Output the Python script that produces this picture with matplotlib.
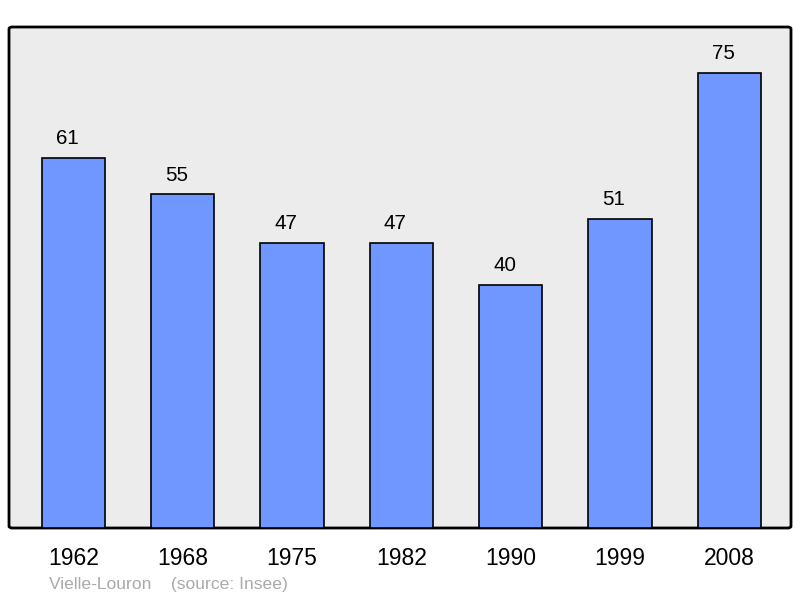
import numpy as np
import matplotlib.pyplot as plt
from matplotlib.patches import FancyBboxPatch

plt.rcParams['font.family'] = ['Liberation Sans', 'DejaVu Sans']

years = ['1962', '1968', '1975', '1982', '1990', '1999', '2008']
population = [61, 55, 47, 47, 40, 51, 75]

fig = plt.figure(figsize=(8, 5.98), dpi=100)
ax = fig.add_axes([9 / 800, 70 / 598, 782 / 800, 501 / 598])
ax.set_facecolor('none')

x = np.arange(len(years))
ax.bar(x, population, width=0.58, color='#7096ff', edgecolor='black', linewidth=1.2, zorder=2)
# labels sit a little left of the bar centre, as in the original
for xi, v in zip(x, population):
    ax.annotate(str(v), (xi, v), xytext=(-4.3, 10), textcoords='offset points',
                ha='center', va='baseline', fontsize=14.8)

ax.set_xlim(-0.59, 6.565)
ax.set_ylim(0, 82.6)
ax.set_yticks([])
ax.set_xticks(x)
ax.set_xticklabels(years, fontsize=16.5)
ax.tick_params(axis='x', length=0, pad=14)
for s in ax.spines.values():
    s.set_visible(False)

bg = FancyBboxPatch((0, 0), 1, 1, boxstyle='round,pad=0,rounding_size=0.004',
                    transform=ax.transAxes, facecolor='#ececec', edgecolor='black',
                    linewidth=2, zorder=0, clip_on=False)
ax.add_patch(bg)

fig.text(49 / 800, 1 - 584 / 598, 'Vielle-Louron    (source: Insee)', color='#aaaaaa',
         fontsize=12.6, va='center', ha='left')

fig.savefig('out.png', dpi=100)
